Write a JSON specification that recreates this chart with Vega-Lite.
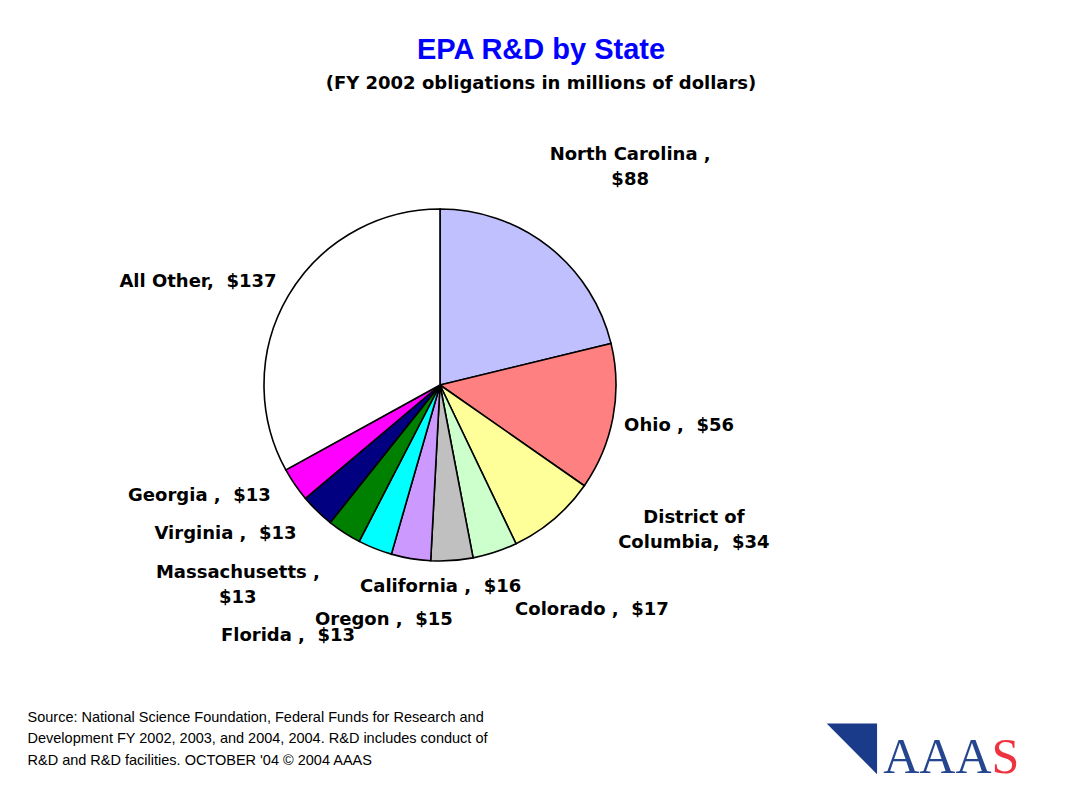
{
  "$schema": "https://vega.github.io/schema/vega-lite/v6.json",
  "width": 700,
  "height": 560,
  "autosize": {"type": "none"},
  "padding": {"left": 90, "top": 105, "right": 275, "bottom": 133},
  "background": "#ffffff",
  "config": {"view": {"stroke": null}},
  "title": {
    "text": "EPA R&D by State",
    "subtitle": "(FY 2002 obligations in millions of dollars)",
    "anchor": "middle",
    "dx": 101,
    "offset": 9,
    "font": "Liberation Sans",
    "fontSize": 29,
    "fontWeight": "bold",
    "color": "#0000FF",
    "subtitleFont": "DejaVu Sans",
    "subtitleFontSize": 18,
    "subtitleFontWeight": "bold",
    "subtitleColor": "#000000",
    "subtitlePadding": 10
  },
  "data": {
    "values": [
      {"idx": 1, "state": "North Carolina", "value": 88, "label": "North Carolina ,\n$88"},
      {"idx": 2, "state": "Ohio", "value": 56, "label": "Ohio , \u00a0$56"},
      {"idx": 3, "state": "District of Columbia", "value": 34, "label": "District of\nColumbia, \u00a0$34"},
      {"idx": 4, "state": "Colorado", "value": 17, "label": "Colorado , \u00a0$17"},
      {"idx": 5, "state": "California", "value": 16, "label": "California , \u00a0$16"},
      {"idx": 6, "state": "Oregon", "value": 15, "label": "Oregon , \u00a0$15"},
      {"idx": 7, "state": "Florida", "value": 13, "label": "Florida , \u00a0$13"},
      {"idx": 8, "state": "Massachusetts", "value": 13, "label": "Massachusetts ,\n$13"},
      {"idx": 9, "state": "Virginia", "value": 13, "label": "Virginia , \u00a0$13"},
      {"idx": 10, "state": "Georgia", "value": 13, "label": "Georgia , \u00a0$13"},
      {"idx": 11, "state": "All Other", "value": 137, "label": "All Other, \u00a0$137"}
    ]
  },
  "layer": [
    {
      "mark": {"type": "arc", "radius": 176, "stroke": "#000000", "strokeWidth": 1.6},
      "encoding": {
        "theta": {"field": "value", "type": "quantitative", "stack": true},
        "order": {"field": "idx", "type": "quantitative"},
        "color": {
          "field": "state",
          "type": "nominal",
          "legend": null,
          "scale": {
            "domain": ["North Carolina", "Ohio", "District of Columbia", "Colorado", "California", "Oregon", "Florida", "Massachusetts", "Virginia", "Georgia", "All Other"],
            "range": ["#C0C0FF", "#FF8080", "#FFFF99", "#CCFFCC", "#C0C0C0", "#CC99FF", "#00FFFF", "#008000", "#000080", "#FF00FF", "#FFFFFF"]
          }
        }
      }
    },
    {
      "mark": {
        "type": "text",
        "radius": 230,
        "font": "DejaVu Sans",
        "fontWeight": "bold",
        "fontSize": 18,
        "lineBreak": "\n",
        "lineHeight": 25,
        "align": "center",
        "baseline": "middle",
        "color": "#000000",
        "dx": {"expr": "datum.state === 'North Carolina' ? 48 : datum.state === 'Ohio' ? 13 : datum.state === 'District of Columbia' ? 105 : datum.state === 'Colorado' ? 80 : datum.state === 'California' ? -15 : datum.state === 'Oregon' ? -18 : datum.state === 'Florida' ? -67 : datum.state === 'Massachusetts' ? -77 : datum.state === 'Virginia' ? -54 : datum.state === 'Georgia' ? -51 : -44"},
        "dy": {"expr": "datum.state === 'North Carolina' ? -49 : datum.state === 'Ohio' ? -1 : datum.state === 'District of Columbia' ? -42 : datum.state === 'Colorado' ? 7 : datum.state === 'California' ? -27 : datum.state === 'Oregon' ? 8 : datum.state === 'Florida' ? 37 : datum.state === 'Massachusetts' ? -5 : datum.state === 'Virginia' ? -16 : datum.state === 'Georgia' ? -19 : 14"}
      },
      "encoding": {
        "theta": {"field": "value", "type": "quantitative", "stack": true},
        "order": {"field": "idx", "type": "quantitative"},
        "text": {"field": "label"}
      }
    },
    {
      "mark": {"type": "point", "opacity": 0},
      "encoding": {
        "x": {
          "datum": 0,
          "type": "quantitative",
          "axis": {
            "orient": "bottom",
            "labels": false, "ticks": false, "domain": false, "grid": false,
            "title": ["Source: National Science Foundation, Federal Funds for Research and", "Development FY 2002, 2003, and 2004,  2004.  R&D includes conduct of", "R&D and R&D facilities. OCTOBER '04 © 2004 AAAS"],
            "titleFont": "Liberation Sans",
            "titleFontSize": 14.5,
            "titleFontWeight": "normal",
            "titleColor": "#000000",
            "titleAlign": "left",
            "titleBaseline": "alphabetic",
            "titleLineHeight": 21.5,
            "titleX": -63,
            "titleY": 56
          }
        },
        "y": {
          "datum": 0,
          "type": "quantitative",
          "axis": {
            "orient": "left",
            "labels": false, "ticks": false, "domain": false, "grid": false,
            "title": "◥",
            "titleFont": "DejaVu Sans",
            "titleFontSize": 66,
            "titleFontWeight": "normal",
            "titleColor": "#1A3A8A",
            "titleAngle": 0,
            "titleAlign": "left",
            "titleBaseline": "alphabetic",
            "titleX": 736,
            "titleY": 660
          }
        }
      }
    },
    {
      "mark": {"type": "point", "opacity": 0},
      "encoding": {
        "x": {
          "datum": 0,
          "type": "quantitative",
          "axis": {
            "orient": "top",
            "labels": false, "ticks": false, "domain": false, "grid": false,
            "title": "S",
            "titleFont": "Liberation Serif",
            "titleFontSize": 50,
            "titleFontWeight": "normal",
            "titleColor": "#EE3340",
            "titleAngle": 0,
            "titleAlign": "left",
            "titleBaseline": "alphabetic",
            "titleX": 901,
            "titleY": 667
          }
        },
        "y": {
          "datum": 0,
          "type": "quantitative",
          "axis": {
            "orient": "right",
            "labels": false, "ticks": false, "domain": false, "grid": false,
            "title": "AAA",
            "titleFont": "Liberation Serif",
            "titleFontSize": 50,
            "titleFontWeight": "normal",
            "titleColor": "#25468F",
            "titleAngle": 0,
            "titleAlign": "right",
            "titleBaseline": "alphabetic",
            "titleX": 201,
            "titleY": 667
          }
        }
      }
    }
  ],
  "resolve": {"scale": {"x": "independent", "y": "independent"}}
}
